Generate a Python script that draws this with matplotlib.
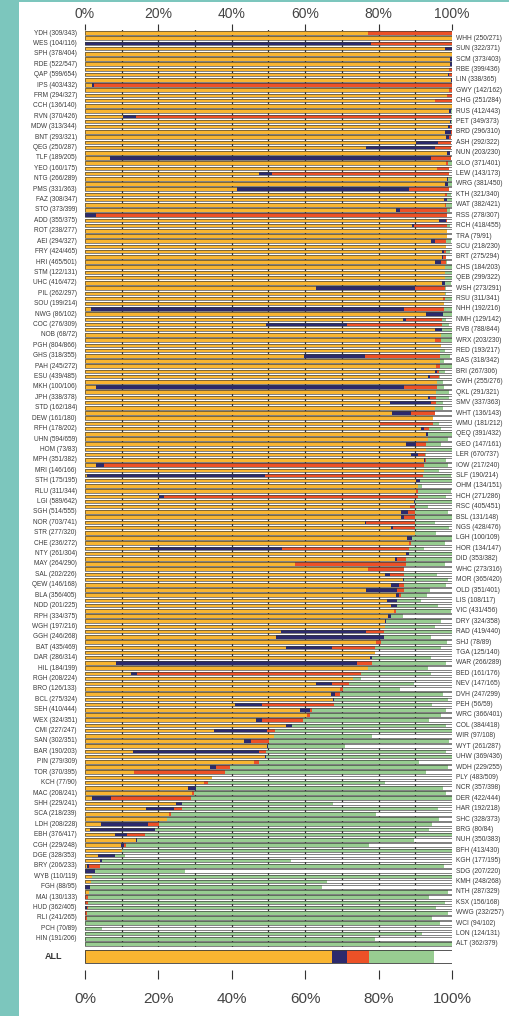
import numpy as np
import matplotlib
matplotlib.use("Agg")
import matplotlib.pyplot as plt
from matplotlib.patches import Rectangle

plt.rcParams['font.family'] = ['Liberation Sans', 'DejaVu Sans']

codes = ["YDH","WHH","WES","SUN","SPH","SCM","RDE","RBE","QAP","LIN",
         "IPS","GWY","FRM","CHG","CCH","RUS","RVN","PET","MDW","BRD",
         "BNT","ASH","QEG","NUN","TLF","GLO","YEO","LEW","NTG","WRG",
         "PMS","KTH","FAZ","WAT","STO","RSS","ADD","RCH","ROT","TRA",
         "AEI","SCU","FRY","BRT","HRI","CHS","STM","QEB","UHC","WSH",
         "PIL","RSU","SOU","NHH","NWG","NMH","COC","RVB","NOB","WRX",
         "PGH","RED","GHS","BAS","PAH","BRI","ESU","GWH","MKH","QKL",
         "JPH","SMV","STD","WHT","DEW","WMU","RFH","QEQ","UHN","GEO",
         "HOM","LER","MPH","IOW","MRI","SLF","STH","OHM","RLU","HCH",
         "LGI","RSC","SGH","BSL","NOR","NGS","STR","LGH","CHE","HOR",
         "NTY","DID","MAY","WHC","SAL","MOR","QEW","OLD","BLA","LIS",
         "NDD","VIC","RPH","DRY","WGH","RAD","GGH","SHJ","BAT","TGA",
         "DAR","WAR","HIL","BED","RGH","NEV","BRO","DVH","BCL","PEH",
         "SEH","WRC","WEX","COL","CMI","WIR","SAN","WYT","BAR","UHW",
         "PIN","WDH","TOR","PLY","KCH","NCR","MAC","DER","SHH","HAR",
         "SCA","SHC","LDH","BRG","EBH","NUH","CGH","BFH","DGE","KGH",
         "BRY","SDG","WYB","KMH","FGH","NTH","MAI","KSX","HUD","WWG",
         "RLI","WCI","PCH","LON","HIN","ALT"]

num = [309,250,104,322,378,373,522,399,599,338,
       403,142,294,251,136,412,370,349,313,296,
       293,292,250,203,189,371,160,143,266,381,
       331,321,308,382,373,278,355,418,238,79,
       294,218,424,275,465,184,122,299,416,273,
       262,311,199,192,86,129,276,788,68,203,
       804,193,318,318,245,267,439,255,100,291,
       338,337,162,136,161,181,178,391,594,147,
       73,670,351,217,146,190,175,134,311,271,
       589,405,514,131,703,428,277,100,236,134,
       261,353,264,273,202,365,146,351,356,108,
       201,431,334,324,197,419,246,78,435,125,
       286,266,184,161,208,147,126,247,275,56,
       410,366,324,384,227,97,302,261,190,369,
       279,229,370,483,77,357,208,422,229,192,
       218,328,208,80,376,350,229,413,328,177,
       206,207,110,248,88,287,130,156,362,232,
       241,94,70,124,191,362]

den = [343,271,116,371,404,403,547,436,654,365,
       432,162,327,284,140,443,426,373,344,310,
       321,322,287,230,205,401,175,173,289,450,
       363,340,347,421,399,307,375,455,277,91,
       327,230,465,294,501,203,131,322,472,291,
       297,341,214,216,102,142,309,844,72,230,
       866,217,355,342,272,306,485,276,106,321,
       378,363,184,143,180,212,202,432,659,161,
       83,737,382,240,166,214,195,151,344,286,
       642,451,555,148,741,476,320,109,272,147,
       304,382,290,316,226,420,168,401,405,117,
       225,456,375,358,216,440,268,89,469,140,
       314,289,199,176,224,165,133,299,324,59,
       444,401,351,418,247,108,351,287,203,436,
       309,255,395,509,90,398,241,444,241,218,
       239,373,228,84,417,383,248,430,353,195,
       233,220,119,268,95,329,133,168,405,257,
       265,102,89,131,206,379]

orange = [77,100,0,98,100,99.5,99.5,99.3,99,99.6,
          2,99.2,98.7,95.5,100,99.3,10.4,99.4,99,98.2,
          98.3,90.3,76.6,98.7,6.7,98.5,96,47.5,98.7,98,
          41.5,98,97.7,98,84.8,0,96.5,89.2,98.6,98.6,
          94.4,98.5,97.4,97.2,95.5,98.2,98.2,98.2,97.4,62.9,
          98,97.5,97.8,1.5,92.8,86.6,49.2,95.3,96.9,95.5,
          96.9,96.7,59.7,96.6,95.6,95.5,93.4,95.9,2.9,95.6,
          93.5,83,95.5,83.7,94.9,80.5,91.5,93,93.5,87.6,
          93,88.8,92.3,3.1,92.3,0.5,90.1,90.7,90.3,20.2,
          89.6,88.6,86.2,86.1,76.4,83.4,89.8,87.7,88.2,17.8,
          87.6,84.5,57.2,77.1,81.7,86.6,83.3,76.7,84.8,82.2,
          83.3,84.2,82.6,81.7,81.8,53.3,52,79.4,54.9,79.1,
          77.7,8.4,77.1,12.4,73,63,69.6,67.1,67.6,41,
          58.5,60.6,46.5,54.7,35.1,51.5,43.3,49.7,13.1,49,
          46,34,13.4,34.5,32.4,28.2,29.1,1.8,24.7,16.7,
          22.9,22.3,4.3,1.3,8.1,14,9.9,10.2,3.6,4,
          0.5,0,1.9,1.7,0,1.1,0,0,0,0,
          0,0,0,0,0,0]

navy = [0,0,78,2,0,0.5,0.5,0,0.3,0.4,
        0.5,0,0,0,0,0.4,3.6,0.3,0.5,1.5,
        0.9,5.9,18.7,0.8,87.5,0,0,3.5,0.3,1,
        46.7,0,1,0,0.9,2.9,1.8,0.4,0,0,
        0.9,0,0.4,0.4,1.6,0,0,0,0.8,27.1,
        0,0,0,85.4,4.7,1,22.1,1.9,0,0,
        0,0,16.5,0,0,0.4,0.7,0,84,0,
        0.6,11.3,0,5.2,0,0,0.8,0.5,0,2.7,
        0,2,0.3,2.2,0,48.5,1.3,0,0,1.2,
        0.4,0,1.9,0.9,0.3,0.4,0,1.4,0,36,
        0.7,0.4,0,0,1.5,0.4,2.3,8.4,0.7,2.9,
        1.6,0,0.7,0.4,0,23.2,29.4,0,12.4,0,
        0.6,65.7,0,1.9,0,4.3,0,0.9,0.3,7.2,
        2.7,0,1.7,1.8,14.6,0,2,0.3,34.3,0.2,
        0,1.8,0,0.2,0,2,0,5.2,1.6,7.5,
        0,0,12.8,17.7,3.4,0.3,0.6,0,4.7,0.6,
        0.5,2.6,0,0,1.3,0,0,0,0.5,0,
        0,0,0,0,0,0]

red = [23,0,22,0,0,0,0,0.7,0.7,0,
       97.5,0.8,1.3,4.5,0,0,85.6,0,0.5,0.3,
       0.5,3.6,4.3,0,5.6,0.5,3.3,48.3,0,0,
       10.9,0.7,0,0.5,13,95.8,0.3,9,0,0,
       3,0,0.5,0.7,1.2,0,0,0,0,8,
       0,0.5,0,10.9,0,9.8,25.9,0,0,1.4,
       0,0,20.4,0,1,0.6,2.4,0,9,0,
       1.6,1.4,0,6.6,0,14.4,1.4,0,0,2.7,
       0,1.9,0.3,87.1,0,43.1,0,0,0.5,69.4,
       0,1.3,1.8,2.9,13.2,6.1,0,0,0.7,34.5,
       0,2.5,30.2,9.8,3.7,0,1.2,1.7,0.5,0,
       0,0.6,0,0,0,4.9,0,1.3,11.8,0,
       0,4.1,0,60.8,0,4.6,0.8,1.4,0,19.6,
       0.7,0.8,11.2,0,2.2,0,4.8,0,2,0,
       1.4,3.8,24.8,0,1.2,0,0.5,22,0.2,2.3,
       0.5,0,3.1,0,4.9,0,0.8,0,0,0,
       3,0,0,0,0,0,0.7,0.7,0.3,0.6,
       0.6,0,0,0,0,0]

green = [0,0,0,0,0,0,0,0,0,0,
         0,0,0,0,0,0.3,0.4,0.3,0,0,
         0,0,0,0,0,1,0,0,1,1,
         0,0.9,1.3,1.5,0.8,0,0,0.8,0,0,
         1.5,0,1.1,0,0.3,1.8,1.8,1.8,1.6,0.5,
         0.5,2,0,2.2,2.5,1.1,2,2.8,3.1,3.1,
         0,1.5,2.9,1.3,3.4,1.7,0.3,1.6,1.8,3.6,
         3.5,1.8,2,0,0,1.6,3.4,6.5,5.4,4.1,
         7,0.3,5.6,6.5,4.1,7.7,8.6,1.1,9,7.7,
         10,3.6,9,10.1,5.6,9.3,5.9,10.9,9.3,4.1,
         11.7,12.6,10.8,0,9.1,11.9,11.5,7.1,7.3,6.5,
         11.3,15,3.3,15,13.7,18.6,12.8,18,18,0,
         16.1,20.3,16.4,19.3,2.1,17.7,15.3,28.1,31,26.8,
         36.4,35.7,34.3,41.8,48.1,26.8,49.1,20.9,48.9,50.8,
         43.6,59.3,54.8,0,48.2,67.3,68.9,71,41.1,69.8,
         56,74.2,74.4,74.7,83.6,75.3,66,89.8,2.7,51.4,
         93.8,24.6,98.1,64.3,63.4,97.8,93,97.5,94.9,98.3,
         93.9,96.8,4.5,91.9,79.1,100]

all_label = "ALL"
all_values = [67.3, 4.2, 5.9, 17.7]   # orange, navy, red, green

x_ticks = [0, 20, 40, 60, 80, 100]

C_OR = '#F9B531'
C_NV = '#2C2A6C'
C_RD = '#EC5127'
C_GR = '#98CD91'
C_WH = '#FFFFFF'
C_EDGE = '#3a3a3a'
C_TEAL = '#7CC6BD'
C_TXT = '#3a3a3a'

W, H = 510, 1016
fig = plt.figure(figsize=(W/100, H/100), dpi=100)
fig.patch.set_facecolor('white')
# teal frame (left strip and top strip)
fig.patches.append(Rectangle((0, 0), 19/W, 1, transform=fig.transFigure,
                             facecolor=C_TEAL, edgecolor='none', zorder=0))
fig.patches.append(Rectangle((0, 1-2/H), 1, 2/H, transform=fig.transFigure,
                             facecolor=C_TEAL, edgecolor='none', zorder=0))

def px_axes(x0, x1, y0, y1):
    return fig.add_axes([x0/W, 1-y1/H, (x1-x0)/W, (y1-y0)/H])

n = len(codes)
O = np.array(orange); N = np.array(navy); R = np.array(red); G = np.array(green)
Wt = np.clip(100 - (O+N+R+G), 0, None)
y = np.arange(n)

ax = px_axes(85, 452, 30.4, 946.6)
ax.set_xlim(0, 100)
ax.set_ylim(n-0.5, -0.5)
bh = 0.68
left = np.zeros(n)
for vals, col in [(O, C_OR), (N, C_NV), (R, C_RD), (G, C_GR), (Wt, C_WH)]:
    ax.barh(y, vals, left=left, height=bh, color=col, linewidth=0, zorder=2)
    left = left + vals
ax.barh(y, np.full(n, 100), height=bh, fill=False, edgecolor=C_EDGE,
        linewidth=0.45, zorder=3)
for gx in range(10, 100, 10):
    ax.axvline(gx, color='#333333', linewidth=0.9, zorder=1)
for s in ax.spines.values():
    s.set_visible(False)
ax.set_yticks([])
ax.xaxis.tick_top()
ax.set_xticks(x_ticks)
ax.set_xticklabels([f"{t}%" for t in x_ticks])
ax.tick_params(axis='x', top=True, bottom=False, length=4, width=0.8,
               color='#333333', pad=3, labelsize=10, labelcolor='#444444')

for i in range(n):
    lab = f"{codes[i]} ({num[i]}/{den[i]})"
    if i % 2 == 0:
        ax.text(-2.2, i, lab, ha='right', va='center', fontsize=4.7,
                color=C_TXT, clip_on=False)
    else:
        ax.text(101.1, i, lab, ha='left', va='center', fontsize=4.8,
                color=C_TXT, clip_on=False)

# ALL bar and bottom axis
ax2 = px_axes(85, 452, 948, 970)
ax2.set_xlim(0, 100)
ax2.set_ylim(22, 0)
av = list(all_values) + [max(0, 100 - sum(all_values))]
lft = 0
for v, col in zip(av, [C_OR, C_NV, C_RD, C_GR, C_WH]):
    ax2.barh([8.7], [v], left=lft, height=13, color=col, linewidth=0, zorder=2)
    lft += v
ax2.barh([8.7], [100], height=13, fill=False, edgecolor=C_EDGE, linewidth=0.6, zorder=3)
for s in ax2.spines.values():
    s.set_visible(False)
ax2.set_yticks([])
ax2.set_xticks(x_ticks)
ax2.set_xticklabels([f"{t}%" for t in x_ticks])
ax2.tick_params(axis='x', bottom=True, length=6.5, width=0.8, color='#333333',
                pad=9.5, labelsize=11, labelcolor='#444444')
ax2.text(-8.7, 8.7, all_label, ha='center', va='center', fontsize=6.5,
         fontweight='bold', color=C_TXT, clip_on=False)

fig.savefig('out.png', dpi=100)
